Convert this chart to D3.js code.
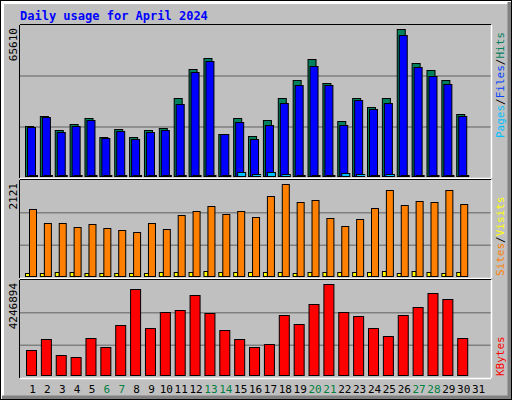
<!DOCTYPE html>
<html>
<head>
<meta charset="utf-8">
<script src="https://cdn.jsdelivr.net/npm/d3@7"></script>
<style>
  body { margin: 0; background: #fff; }
  text { font-family: "DejaVu Sans Mono", monospace; }
</style>
</head>
<body>
<div id="chart"></div>
<script>
// Daily usage data
const days = d3.range(1, 32);
const weekends = [6, 7, 13, 14, 20, 21, 27, 28];

const hits = [22220, 26690, 20430, 23110, 25790, 17300, 20880, 17300, 20430, 21320,
  34730, 47700, 52620, 18640, 25790, 17750, 24900, 34730, 42780, 52170,
  41440, 24450, 34730, 30710, 34730, 65610, 50380, 47250, 42780, 27580, 0];
const files = [21770, 26370, 19530, 22220, 24900, 16850, 19980, 16410, 19530, 20430,
  32050, 46350, 51270, 18640, 24000, 16410, 22660, 32500, 40540, 49040,
  40540, 22660, 33840, 29810, 32500, 62890, 48590, 44570, 40990, 26690, 0];
const pages = [400, 450, 450, 450, 400, 450, 450, 400, 450, 450,
  450, 450, 450, 400, 1700, 700, 1700, 1100, 450, 450,
  450, 1300, 900, 600, 1100, 500, 450, 450, 450, 450, 0];

const sites = [1543, 1219, 1219, 1126, 1196, 1103, 1057, 1011, 1219, 1080,
  1404, 1496, 1612, 1427, 1496, 1358, 1843, 2121, 1705, 1751,
  1335, 1150, 1311, 1566, 1982, 1635, 1728, 1705, 1982, 1658, 0];
const visits = [70, 70, 92, 92, 70, 70, 70, 70, 70, 92,
  92, 92, 115, 92, 92, 92, 92, 92, 70, 92,
  92, 92, 92, 92, 115, 70, 115, 92, 70, 92, 0];

const kbytes = [1156500, 1671600, 922400, 828800, 1718400, 1297000, 2327100, 4012700, 2186600, 2935800,
  3029400, 3731800, 2889000, 2093000, 1671600, 1297000, 1437500, 2795300, 2373900, 3310400,
  4246894, 2935800, 2748500, 2186600, 1812000, 2795300, 3169900, 3825400, 3544500, 1718400, 0];

const W = 512, H = 400;
const svg = d3.select('#chart').append('svg')
  .attr('width', W).attr('height', H);

// background and bevelled border
svg.append('rect').attr('width', W).attr('height', H).attr('fill', '#c0c0c0');
svg.append('path').attr('d', `M1,${H - 1}V1H${W - 1}`).attr('stroke', '#fff').attr('stroke-width', 6).attr('fill', 'none');
svg.append('path').attr('d', `M${W - 2},2V${H - 2}H2`).attr('stroke', '#808080').attr('stroke-width', 5).attr('fill', 'none');
svg.append('rect').attr('x', 0.5).attr('y', 0.5).attr('width', W - 1).attr('height', H - 1)
  .attr('fill', 'none').attr('stroke', '#000');

svg.append('text').attr('x', 20).attr('y', 20)
  .attr('font-size', 12).attr('font-weight', 'bold').attr('fill', '#0000ff')
  .text('Daily usage for April 2024');

const left = 20, right = 491;
const x = d3.scaleLinear().domain([1, 31]).range([31.5, 477.6]);

const panels = [
  { top: 25, bottom: 178, base: 176, maxY: 29.3, max: 65610 },
  { top: 180, bottom: 278, base: 276, maxY: 184.3, max: 2121 },
  { top: 280, bottom: 378, base: 375, maxY: 284.3, max: 4246894 }
];

panels.forEach(p => {
  p.y = d3.scaleLinear().domain([0, p.max]).range([p.base, p.maxY]);
  const h = p.bottom - p.top;
  [1, 2].forEach(k => {
    svg.append('line').attr('x1', left).attr('x2', right)
      .attr('y1', p.top + h * k / 3).attr('y2', p.top + h * k / 3)
      .attr('stroke', '#808080').attr('stroke-width', 1.5);
  });
  // frame
  svg.append('line').attr('x1', left).attr('x2', right).attr('y1', p.top - 0.5).attr('y2', p.top - 0.5)
    .attr('stroke', '#000');
  svg.append('line').attr('x1', left).attr('x2', right).attr('y1', p.bottom + 0.5).attr('y2', p.bottom + 0.5)
    .attr('stroke', '#fff').attr('stroke-width', 1.5);
  svg.append('line').attr('x1', left - 0.5).attr('x2', left - 0.5).attr('y1', p.top).attr('y2', p.bottom)
    .attr('stroke', '#000');
  svg.append('line').attr('x1', right + 0.5).attr('x2', right + 0.5).attr('y1', p.top).attr('y2', p.bottom)
    .attr('stroke', '#fff').attr('stroke-width', 1.5);
});

function bars(values, panel, dx0, dx1, color) {
  svg.append('g').selectAll('rect')
    .data(values.map((v, i) => ({ d: days[i], v })).filter(o => o.v > 0))
    .join('rect')
    .attr('x', o => x(o.d) + dx0 + 0.5)
    .attr('width', dx1 - dx0)
    .attr('y', o => Math.round(panel.y(o.v)) + 0.5)
    .attr('height', o => Math.max(1, panel.base - Math.round(panel.y(o.v))))
    .attr('fill', color)
    .attr('stroke', '#000');
}

bars(hits, panels[0], -6.5, 1.5, '#00805c');
bars(files, panels[0], -4.5, 3.5, '#0000ff');
bars(pages, panels[0], -2.5, 5.5, '#00c0ff');
bars(visits, panels[1], -6.5, -2.5, '#ffff00');
bars(sites, panels[1], -2.5, 4.5, '#ff8000');
bars(kbytes, panels[2], -5.5, 4.5, '#ff0000');

// max value labels (rotated)
const maxLabels = [['65610', 28], ['2121', 183], ['4246894', 283]];
maxLabels.forEach(([t, y0]) => {
  svg.append('text').attr('transform', `translate(17,${y0}) rotate(-90)`)
    .attr('text-anchor', 'end').attr('font-size', 11).attr('fill', '#000').text(t);
});

// right-side legends
function legend(parts, y0) {
  const t = svg.append('text').attr('transform', `translate(504,${y0}) rotate(-90)`)
    .attr('font-size', 11);
  parts.forEach(([s, c]) => t.append('tspan').attr('fill', c).text(s));
}
legend([['Pages', '#00c0ff'], ['/', '#000'], ['Files', '#0040ff'], ['/', '#000'], ['Hits', '#00805c']], 138);
legend([['Sites', '#ff8000'], ['/', '#000'], ['Visits', '#ffff00']], 276);
legend([['KBytes', '#ff0000']], 376);

// day labels
svg.append('g').selectAll('text').data(days).join('text')
  .attr('x', d => x(d) + 1)
  .attr('y', 393)
  .attr('text-anchor', 'middle')
  .attr('font-size', 11)
  .attr('fill', d => weekends.includes(d) ? '#008040' : '#000')
  .text(d => d);
</script>
</body>
</html>
